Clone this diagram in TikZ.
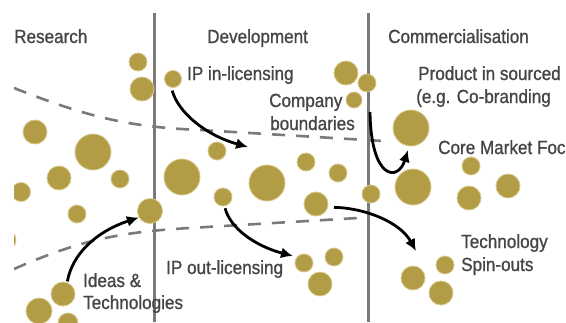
\documentclass[tikz,border=0pt]{standalone}
\usepackage{fontspec}
\setmainfont{Liberation Sans}[FakeStretch=0.9,FakeBold=0.9]
\usetikzlibrary{arrows.meta}
\definecolor{gold}{HTML}{B39C46}
\definecolor{goldedge}{HTML}{D6C98C}
\definecolor{txt}{HTML}{454545}
\definecolor{sepgray}{HTML}{7A7A7A}
\begin{document}
\begin{tikzpicture}[x=1pt,y=-1pt,
  gdot/.style={circle, fill=gold, draw=goldedge, line width=0.8pt, inner sep=0pt, minimum size=#1},
  lbl/.style={anchor=base west, inner sep=0pt, text=txt, font=\fontsize{19}{22}\selectfont},
  sepline/.style={draw=sepgray, line width=3pt},
  bound/.style={draw=sepgray, line width=2.6pt, dash pattern=on 13pt off 11pt},
  flow/.style={draw=black, line width=2.8pt, -{Latex[length=12pt,width=11pt]}},
]
\useasboundingbox[fill=white] (0,0) rectangle (566,322);
\begin{scope}
\clip (14,0) rectangle (566,322);
% company boundaries (dashed)
\draw[bound] (14,88) .. controls (90,118) and (130,127) .. (200,130) -- (383,141);
\draw[bound] (14,269) .. controls (80,240) and (120,232) .. (190,228) -- (358,218);
% stage separators
\coordinate (s1t) at (154,13); \coordinate (s1b) at (154,322);
\coordinate (s2t) at (368,13); \coordinate (s2b) at (368,322);
\draw[sepline] (s1t) -- (s1b);
\draw[sepline] (s2t) -- (s2b);
% Research circles
\node[gdot=18] (r1) at (138,62) {};
\node[gdot=24] (r2) at (142,89) {};
\node[gdot=24] (r3) at (35,132) {};
\node[gdot=36] (r4) at (93,152) {};
\node[gdot=24] (r5) at (59,178) {};
\node[gdot=18] (r6) at (120,179) {};
\node[gdot=19] (r7) at (21,192) {};
\node[gdot=18] (r8) at (77,214) {};
\node[gdot=25] (r9) at (150,211) {};
\node[gdot=20] (r10) at (6,240) {};
\node[gdot=24] (r11) at (63,294) {};
\node[gdot=26] (r12) at (39,311) {};
\node[gdot=20] (r13) at (68,323) {};
% Development circles
\node[gdot=17] (d1) at (173,79) {};
\node[gdot=18] (d2) at (217,151) {};
\node[gdot=36] (d3) at (182,177) {};
\node[gdot=36] (d4) at (267,183) {};
\node[gdot=18] (d5) at (223,197) {};
\node[gdot=18] (d6) at (306,162) {};
\node[gdot=18] (d7) at (338,173) {};
\node[gdot=24] (d8) at (316,204) {};
\node[gdot=24] (d9) at (346,73) {};
\node[gdot=16] (d10) at (354,100) {};
\node[gdot=18] (d11) at (304,263) {};
\node[gdot=18] (d12) at (334,257) {};
\node[gdot=24] (d13) at (320,284) {};
% Commercialisation circles
\node[gdot=18] (m1) at (367,83) {};
\node[gdot=36] (m2) at (411,128) {};
\node[gdot=36] (m3) at (413,187) {};
\node[gdot=18] (m4) at (371,194) {};
\node[gdot=18] (m5) at (471,166) {};
\node[gdot=24] (m6) at (508,186) {};
\node[gdot=24] (m7) at (469,198) {};
\node[gdot=24] (m8) at (413,278) {};
\node[gdot=18] (m9) at (445,265) {};
\node[gdot=24] (m10) at (441,293) {};
% arrow end points
\coordinate (a1e) at (248,147);
\coordinate (a2s) at (370,112);
\coordinate (a2e) at (408,150);
\coordinate (a4e) at (293,256);
\coordinate (a5e) at (416,251);
% arrows
\draw[flow, shorten <=3pt] (d1.260) .. controls (178,112) and (205,135) .. (a1e);
\draw[flow] (a2s) .. controls (371,180) and (398,182) .. (a2e);
\draw[flow, shorten <=1pt] (r11.70) .. controls (72,255) and (95,232) .. (r9.210);
\draw[flow, shorten <=2pt] (d5.-80) .. controls (230,228) and (255,246) .. (a4e);
\draw[flow, shorten <=6pt] (d8.-15) .. controls (365,208) and (400,222) .. (a5e);
% labels
\node[lbl] (hres) at (14,43) {Research};
\node[lbl] (hdev) at (207,43) {Development};
\node[lbl] (hcom) at (388,43) {Commercialisation};
\node[lbl] (tin) at (187,80) {IP in-licensing};
\node[lbl] (tcb1) at (269,107) {Company};
\node[lbl] (tcb2) at (270,130) {boundaries};
\node[lbl] (tpr1) at (418,80) {Product in sourced};
\node[lbl] (tpr2) at (416,103) {(e.g. Co-branding};
\node[lbl] (tcore) at (438,154) {Core Market Foc};
\node[lbl] (tts1) at (461,248) {Technology};
\node[lbl] (tts2) at (461,271) {Spin-outs};
\node[lbl] (tout) at (166,274) {IP out-licensing};
\node[lbl] (tid1) at (83,287) {Ideas \&};
\node[lbl] (tid2) at (83,309) {Technologies};
\end{scope}
\end{tikzpicture}
\end{document}
